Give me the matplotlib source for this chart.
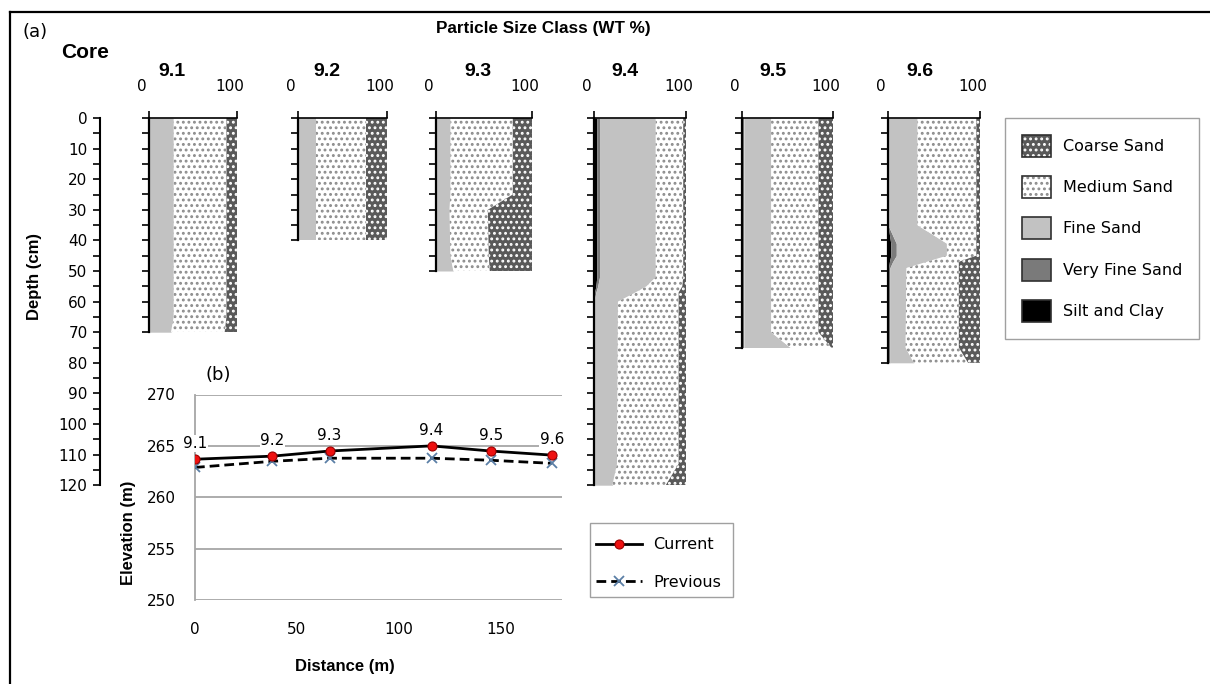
import numpy as np
import matplotlib
matplotlib.use('Agg')
import matplotlib.pyplot as plt
from matplotlib.patches import Patch, Rectangle
from matplotlib.lines import Line2D
from matplotlib.legend_handler import HandlerTuple
from matplotlib.transforms import ScaledTranslation

# ---- data: particle size (wt %) by depth (cm) for each core ----
cores = ['9.1', '9.2', '9.3', '9.4', '9.5', '9.6']

d91 = [0, 65, 70]
silt91 = [0, 0, 0]
vfs91 = [0, 0, 0]
fine91 = [28, 28, 25]
med91 = [60, 60, 61]
coarse91 = [12, 12, 14]

d92 = [0, 40]
silt92 = [0, 0]
vfs92 = [0, 0]
fine92 = [20, 20]
med92 = [56, 56]
coarse92 = [24, 24]

d93 = [0, 25, 30, 45, 50]
silt93 = [0, 0, 0, 0, 0]
vfs93 = [0, 0, 0, 0, 0]
fine93 = [15, 15, 14, 15, 18]
med93 = [65, 65, 40, 40, 38]
coarse93 = [20, 20, 46, 45, 44]

d94 = [0, 52, 55, 57, 60, 113, 120]
silt94 = [3, 3, 2, 0.5, 0, 0, 0]
vfs94 = [3, 3, 2, 1.5, 0, 0, 0]
fine94 = [61, 61, 53, 43, 26, 25, 20]
med94 = [30, 30, 39, 47, 66, 67, 58]
coarse94 = [3, 3, 4, 8, 8, 8, 22]

d95 = [0, 70, 75]
silt95 = [0, 0, 0]
vfs95 = [2, 2, 2]
fine95 = [30, 30, 51]
med95 = [52, 52, 45]
coarse95 = [16, 16, 2]

d96 = [0, 35, 41, 45, 47, 49, 75, 80]
silt96 = [0, 0, 3, 3, 1.5, 0.5, 0.5, 0.5]
vfs96 = [0, 0, 6, 6, 3.5, 1.5, 1.5, 1.5]
fine96 = [32, 32, 55, 55, 37, 18, 17, 26]
med96 = [64, 64, 32, 32, 35, 57, 58, 59]
coarse96 = [4, 4, 4, 4, 23, 23, 23, 13]

# ---- data: elevation profile (b) ----
distance = [0, 38, 66, 116, 145, 175]
elev_current = [263.7, 264.0, 264.5, 265.0, 264.5, 264.1]
elev_previous = [262.9, 263.5, 263.8, 263.8, 263.6, 263.3]

classes = ['Silt and Clay', 'Very Fine Sand', 'Fine Sand', 'Medium Sand', 'Coarse Sand']
face = ['black', '#7a7a7a', '#c2c2c2', 'white', '#595959']
hatches = [None, None, None, '...', '...']
hatch_col = ['black', '#7a7a7a', '#c2c2c2', '#8c8c8c', 'white']

core_data = [
    (d91, silt91, vfs91, fine91, med91, coarse91),
    (d92, silt92, vfs92, fine92, med92, coarse92),
    (d93, silt93, vfs93, fine93, med93, coarse93),
    (d94, silt94, vfs94, fine94, med94, coarse94),
    (d95, silt95, vfs95, fine95, med95, coarse95),
    (d96, silt96, vfs96, fine96, med96, coarse96),
]

# ---- layout (pixels) ----
W, H, DPI = 1210, 684, 100
TOP = 118
PX_CM = 3.06
core_x0 = [149, 298, 436, 594, 742, 888]
core_x1 = [237, 387, 532, 686, 833, 980]
title_x = [172, 327, 478, 625, 773, 920]

LABEL_FONT = 'Liberation Sans'
plt.rcParams['font.family'] = ['DejaVu Sans']
plt.rcParams['hatch.linewidth'] = 1.3


def px_box(x0, y0, x1, y1):
    return [x0 / W, 1 - y1 / H, (x1 - x0) / W, (y1 - y0) / H]


fig = plt.figure(figsize=(W / DPI, H / DPI), dpi=DPI)

# frame of panel (a)
fig.add_artist(Line2D([10 / W, 10 / W], [0, 1 - 12 / H], color='black', lw=1.6))
fig.add_artist(Line2D([10 / W, 1], [1 - 12 / H, 1 - 12 / H], color='black', lw=1.6))

fig.text(22 / W, 1 - 32 / H, '(a)', fontsize=13, va='center', ha='left')
fig.text(85 / W, 1 - 53 / H, 'Core', fontsize=15, fontweight='bold',
         family=LABEL_FONT, ha='center', va='center')
fig.text(543 / W, 1 - 29 / H, 'Particle Size Class (WT %)', fontsize=12.3,
         fontweight='bold', family=LABEL_FONT, ha='center', va='center')

# common depth axis
ax_d = fig.add_axes(px_box(100, TOP, 101, TOP + 120 * PX_CM))
ax_d.set_ylim(120, 0)
ax_d.set_xticks([])
for s in ['top', 'right', 'bottom']:
    ax_d.spines[s].set_visible(False)
ax_d.spines['left'].set_linewidth(1.5)
ax_d.set_yticks(range(0, 121, 10))
ax_d.set_yticks(range(0, 121, 5), minor=True)
ax_d.tick_params(axis='y', which='both', length=5, width=1.2, labelsize=11, pad=4)
ax_d.patch.set_alpha(0)
fig.text(35 / W, 1 - 277 / H, 'Depth (cm)', rotation=90, fontsize=12,
         fontweight='bold', family=LABEL_FONT, ha='center', va='center')

# cores
for i, name in enumerate(cores):
    d, *parts = core_data[i]
    d = np.array(d, dtype=float)
    cum = np.vstack([np.zeros(len(d))] + [np.cumsum(np.array(parts, dtype=float), axis=0)])
    ax = fig.add_axes(px_box(core_x0[i], TOP, core_x1[i], TOP + d[-1] * PX_CM))
    for k in range(len(classes)):
        ax.fill_betweenx(d, cum[k], cum[k + 1], facecolor=face[k],
                         edgecolor=hatch_col[k], hatch=hatches[k], linewidth=0)
    ax.set_xlim(0, 100)
    ax.set_ylim(d[-1], 0)
    ax.patch.set_alpha(0)
    for s in ['right', 'bottom']:
        ax.spines[s].set_visible(False)
    ax.spines['left'].set_linewidth(1.6)
    ax.spines['top'].set_linewidth(1.2)
    ax.set_yticks(np.arange(0, d[-1] + 0.1, 5))
    ax.tick_params(axis='y', length=5, width=1.2, labelleft=False)
    ax.xaxis.tick_top()
    ax.set_xticks([0, 100])
    ax.tick_params(axis='x', length=5, width=1.2, labelsize=11, pad=12)
    for t in ax.xaxis.get_major_ticks():
        t.label2.set_transform(t.label2.get_transform()
                               + ScaledTranslation(-7 / DPI, 0, fig.dpi_scale_trans))
    fig.text(title_x[i] / W, 1 - 72 / H, name, fontsize=14, fontweight='bold',
             family=LABEL_FONT, ha='center', va='center')

# legend for particle classes
order = [4, 3, 2, 1, 0]
handles = [(Patch(facecolor=face[k], edgecolor=hatch_col[k], hatch=hatches[k], lw=0),
            Patch(facecolor='none', edgecolor='#303030', lw=1.2)) for k in order]
fig.legend(handles, [classes[k] for k in order],
           handler_map={tuple: HandlerTuple(ndivide=1, pad=0)},
           loc='upper left', bbox_to_anchor=(1005 / W, 1 - 118 / H), borderaxespad=0,
           fancybox=False, edgecolor='#a0a0a0', framealpha=1, fontsize=11.5,
           handlelength=1.8, handleheight=1.75, labelspacing=1.2, borderpad=1.05,
           handletextpad=0.8)

# ---- panel (b): elevation profile ----
ax_b = fig.add_axes(px_box(195, 394.5, 562, 600))
ax_b.set_xlim(0, 180)
ax_b.set_ylim(250, 270)
ax_b.set_yticks(range(250, 271, 5))
ax_b.set_xticks([0, 50, 100, 150])
ax_b.grid(axis='y', color='#a6a6a6', lw=1.3)
ax_b.set_axisbelow(True)
for s in ['top', 'right', 'bottom']:
    ax_b.spines[s].set_visible(False)
ax_b.spines['left'].set_color('#a6a6a6')
ax_b.spines['left'].set_linewidth(1.3)
ax_b.tick_params(axis='both', length=0, labelsize=11)
ax_b.tick_params(axis='y', pad=14)
ax_b.tick_params(axis='x', pad=16)

l_prev, = ax_b.plot(distance, elev_previous, color='black', lw=2, ls=(0, (3.5, 1.8)),
                    marker='x', ms=6.5, mec='#5b7fa6', mew=1.3, label='Previous', zorder=3)
l_cur, = ax_b.plot(distance, elev_current, color='black', lw=2, marker='o', ms=6.5,
                   mfc='#ee1111', mec='#990000', mew=0.8, label='Current', zorder=4)
for name, x, y in zip(cores, distance, elev_current):
    ax_b.annotate(name, (x, y), xytext=(0, 6), textcoords='offset points',
                  ha='center', va='bottom', fontsize=11,
                  bbox=dict(fc='white', ec='none', pad=0.5), zorder=5)

fig.text(218 / W, 1 - 375 / H, '(b)', fontsize=13, ha='center', va='center')
fig.text(128 / W, 1 - 533 / H, 'Elevation (m)', rotation=90, fontsize=12,
         fontweight='bold', family=LABEL_FONT, ha='center', va='center')
fig.text(345 / W, 1 - 666 / H, 'Distance (m)', fontsize=12, fontweight='bold',
         family=LABEL_FONT, ha='center', va='center')

# legend for (b): frame drawn separately so the side padding stays tight
fig.add_artist(Rectangle((590 / W, 1 - 597 / H), 143 / W, 74 / H,
                         transform=fig.transFigure, facecolor='white',
                         edgecolor='#a0a0a0', lw=1.0))
fig.legend([l_cur, l_prev], ['Current', 'Previous'], loc='center left',
           bbox_to_anchor=(596 / W, 1 - 563.5 / H), borderaxespad=0, frameon=False,
           fontsize=11.5, handlelength=2.9, labelspacing=1.4, borderpad=0,
           handletextpad=0.7)

fig.savefig('out.png', dpi=DPI)
